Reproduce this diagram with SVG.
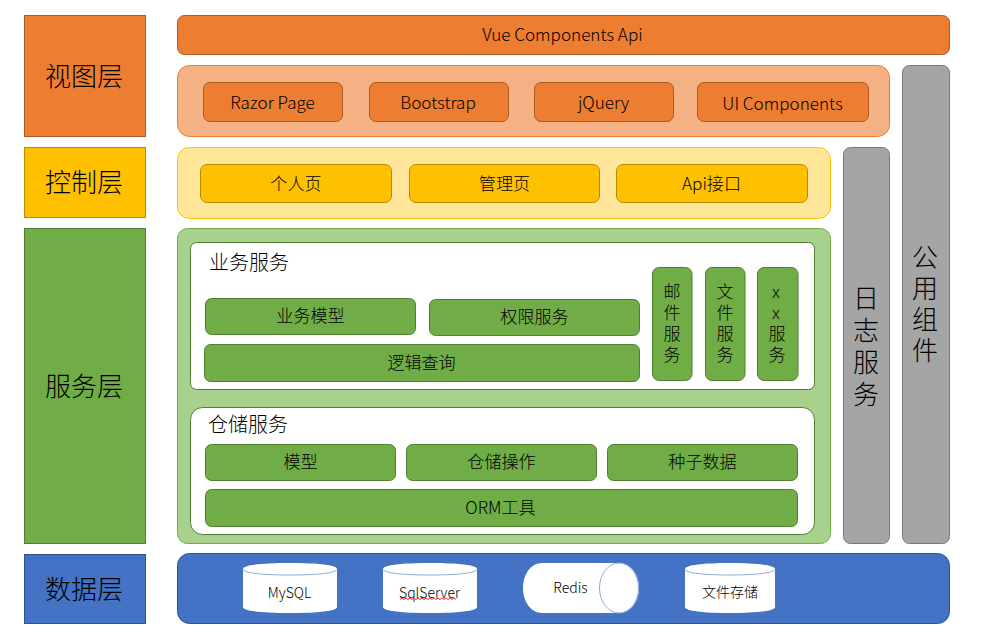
<svg xmlns="http://www.w3.org/2000/svg" width="983" height="639" viewBox="0 0 983 639">
<style>
text{font-family:"Noto Sans CJK SC","Open Sans","Liberation Sans",sans-serif;font-weight:300;fill:#000;text-anchor:middle}
.l{font-size:26px}.m{font-size:17.100px}.t{font-size:20px}.s{font-size:14px}.b{font-size:26px}
.o{fill:#ed7d31;stroke:#ae5a21;stroke-width:1}
.y{fill:#ffc000;stroke:#bc8c00;stroke-width:1}
.g{fill:#70ad47;stroke:#507e32;stroke-width:1}
.u{fill:#4472c4;stroke:#2f528f;stroke-width:1}
.a{fill:#a5a5a5;stroke:#787878;stroke-width:1}
.w{fill:#fff;stroke:#507e32;stroke-width:1}
.e{fill:#fff;stroke:none}
.rim{fill:none;stroke:#8faadc;stroke-width:1}
</style>
<g id="layer-view"><rect class="o" x="24.500" y="15.500" width="121" height="121"/><text class="l" x="84" y="86">视图层</text></g>
<g id="layer-control"><rect class="y" x="24.500" y="147.500" width="121" height="70"/><text class="l" x="84" y="192">控制层</text></g>
<g id="layer-service"><rect class="g" x="24.500" y="228.500" width="121" height="315"/><text class="l" x="84" y="396">服务层</text></g>
<g id="layer-data"><rect class="u" x="24.500" y="554.500" width="121" height="69"/><text class="l" x="84" y="599">数据层</text></g>

<g id="vue"><rect class="o" x="177.500" y="15.500" width="772" height="39" rx="7"/><text class="m" x="562.500" y="41">Vue Components Api</text></g>
<g id="view-panel"><rect x="177.500" y="65.500" width="712" height="71" rx="12" fill="#f4b183" stroke="#ed7d31"/></g>
<g id="razor"><rect class="o" x="203.500" y="82.500" width="139" height="39" rx="6.500"/><text class="m" x="272.500" y="108.500">Razor Page</text></g>
<g id="bootstrap"><rect class="o" x="369.500" y="82.500" width="139" height="39" rx="6.500"/><text class="m" x="438" y="108.500">Bootstrap</text></g>
<g id="jquery"><rect class="o" x="534.500" y="82.500" width="139" height="39" rx="6.500"/><text class="m" x="603.500" y="108.500">jQuery</text></g>
<g id="ui"><rect class="o" x="697.500" y="82.500" width="171" height="39" rx="6.500"/><text class="m" x="782.500" y="109.500">UI Components</text></g>

<g id="control-panel"><rect x="177.500" y="147.500" width="653" height="71" rx="12" fill="#ffe699" stroke="#ffc000"/></g>
<g id="personal"><rect class="y" x="200.500" y="164.500" width="191" height="38" rx="6.500"/><text class="m" x="296" y="190">个人页</text></g>
<g id="admin"><rect class="y" x="409.500" y="164.500" width="190" height="38" rx="6.500"/><text class="m" x="504.500" y="190">管理页</text></g>
<g id="api"><rect class="y" x="616.500" y="164.500" width="191" height="38" rx="6.500"/><text class="m" x="711.500" y="190">Api接口</text></g>

<g id="service-panel"><rect x="177.500" y="228.500" width="653" height="315" rx="10" fill="#a9d18e" stroke="#70ad47"/></g>
<g id="business"><rect class="w" x="190.500" y="242.500" width="624" height="147" rx="6"/><text class="t" x="249" y="270">业务服务</text></g>
<g id="biz-model"><rect class="g" x="205.500" y="298.500" width="210" height="36" rx="6"/><text class="m" x="310.500" y="322">业务模型</text></g>
<g id="permission"><rect class="g" x="429.500" y="299.500" width="210" height="36" rx="6"/><text class="m" x="534.500" y="323">权限服务</text></g>
<g id="logic"><rect class="g" x="204.500" y="344.500" width="435" height="37" rx="6"/><text class="m" x="421.500" y="369">逻辑查询</text></g>
<g id="mail"><rect class="g" x="652.500" y="267.500" width="39.500" height="113" rx="6.500"/><text class="m" x="672" y="297.500"><tspan x="672">邮</tspan><tspan x="672" dy="21.300">件</tspan><tspan x="672" dy="21.300">服</tspan><tspan x="672" dy="21.300">务</tspan></text></g>
<g id="file"><rect class="g" x="705.500" y="267.500" width="39.500" height="113" rx="6.500"/><text class="m" x="725" y="297.500"><tspan x="725">文</tspan><tspan x="725" dy="21.300">件</tspan><tspan x="725" dy="21.300">服</tspan><tspan x="725" dy="21.300">务</tspan></text></g>
<g id="xx"><rect class="g" x="757.500" y="267.500" width="40.500" height="113" rx="6.500"/><text class="m" x="776" y="297.500"><tspan x="776">x</tspan><tspan x="776" dy="21.300">x</tspan><tspan x="777" dy="21.300">服</tspan><tspan x="777" dy="21.300">务</tspan></text></g>

<g id="repository"><rect class="w" x="190.500" y="407.500" width="624" height="127" rx="12"/><text class="t" x="248" y="432">仓储服务</text></g>
<g id="model"><rect class="g" x="205.500" y="444.500" width="190" height="36" rx="6"/><text class="m" x="300.500" y="468">模型</text></g>
<g id="repo-op"><rect class="g" x="406.500" y="444.500" width="190" height="36" rx="6"/><text class="m" x="501.500" y="468">仓储操作</text></g>
<g id="seed"><rect class="g" x="607.500" y="444.500" width="190" height="36" rx="6"/><text class="m" x="702.500" y="468">种子数据</text></g>
<g id="orm"><rect class="g" x="205.500" y="489.500" width="592" height="37" rx="6"/><text class="m" x="500.500" y="514">ORM工具</text></g>

<g id="log"><rect class="a" x="843.500" y="147.500" width="46" height="396" rx="7"/><text class="b" x="866" y="308"><tspan x="866">日</tspan><tspan x="866" dy="32">志</tspan><tspan x="866" dy="32">服</tspan><tspan x="866" dy="32">务</tspan></text></g>
<g id="common"><rect class="a" x="902.500" y="65.500" width="47" height="478" rx="7"/><text class="b" x="925" y="267"><tspan x="925">公</tspan><tspan x="925" dy="31">用</tspan><tspan x="925" dy="31">组</tspan><tspan x="925" dy="31">件</tspan></text></g>

<g id="data-panel"><rect class="u" x="177.500" y="553.500" width="772" height="70" rx="12"/></g>
<g id="mysql"><path class="e" d="M243 569C243 565 262 563 290 563S337 565 337 569V607C337 611 318 613 290 613S243 611 243 607Z"/><path class="rim" d="M243 569C243 573 262 575 290 575S337 573 337 569"/><text class="s" x="289.500" y="598">MySQL</text></g>
<g id="sqlserver"><path class="e" d="M383 569C383 565 402 563 430 563S477 565 477 569V607C477 611 458 613 430 613S383 611 383 607Z"/><path class="rim" d="M383 569C383 573 402 575 430 575S477 573 477 569"/><text class="s" x="429.500" y="598">SqlServer</text><path d="M400 599.500l2 -1.500l2 1.500l2 -1.500l2 1.500l2 -1.500l2 1.500l2 -1.500l2 1.500l2 -1.500l2 1.500l2 -1.500l2 1.500l2 -1.500l2 1.500l2 -1.500l2 1.500l2 -1.500l2 1.500l2 -1.500l2 1.500l2 -1.500l2 1.500l2 -1.500l2 1.500l2 -1.500l2 1.500l2 -1.500l2 1.500" fill="none" stroke="#e23030" stroke-width="1"/></g>
<g id="redis"><path class="e" d="M542 563H619C630 563 639 574 639 588S630 613 619 613H542C531 613 523 602 523 588S531 563 542 563Z"/><ellipse cx="619" cy="588" rx="19.500" ry="25" fill="#fff" stroke="#8faadc"/><text class="s" x="570.500" y="593">Redis</text></g>
<g id="storage"><path class="e" d="M685 569C685 565 704 563 730 563S775 565 775 569V607C775 611 756 613 730 613S685 611 685 607Z"/><path class="rim" d="M685 569C685 573 704 575 730 575S775 573 775 569"/><text class="s" x="730" y="597">文件存储</text></g>
<g id="connectors"/>
</svg>
